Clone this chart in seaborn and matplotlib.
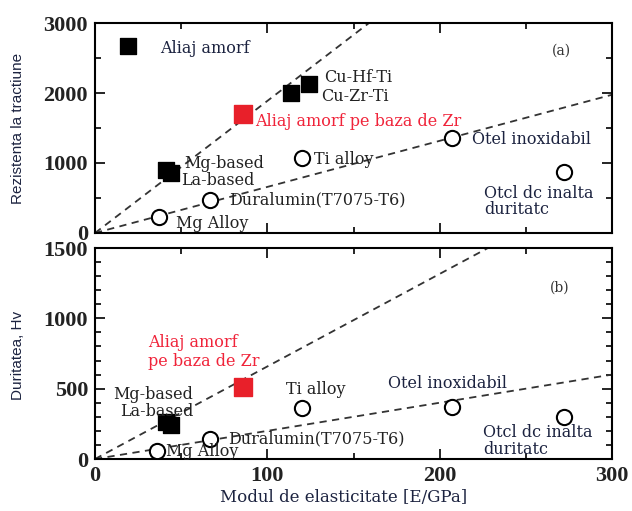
import matplotlib
matplotlib.use("Agg")
import matplotlib.pyplot as plt
import seaborn as sns
import pandas as pd
from matplotlib.ticker import MultipleLocator

sns.set_theme(style="white")
plt.rcParams['font.family'] = ['DejaVu Serif']

# ---- Data: panel (a) tensile strength vs modulus ----
a_amorph_E = [19, 114, 124, 41, 44]
a_amorph_S = [2670, 2000, 2130, 900, 860]
a_zr_E = [86]
a_zr_S = [1700]
a_cryst_E = [37, 67, 120, 207, 272]
a_cryst_S = [230, 470, 1070, 1360, 870]
a_line1_E = [0, 159]
a_line1_S = [0, 3000]
a_line2_E = [0, 300]
a_line2_S = [0, 1975]

# ---- Data: panel (b) hardness vs modulus ----
b_amorph_E = [41, 44]
b_amorph_H = [265, 245]
b_zr_E = [86]
b_zr_H = [512]
b_cryst_E = [36, 67, 120, 207, 272]
b_cryst_H = [57, 142, 363, 370, 299]
b_line1_E = [0, 228]
b_line1_H = [0, 1500]
b_line2_E = [0, 300]
b_line2_H = [0, 600]

navy = '#1c2340'
W, H = 632, 511
fig = plt.figure(figsize=(W/100, H/100), dpi=100)
axa = fig.add_axes([95/W, 1-233/H, 517/W, 210/H])
axb = fig.add_axes([95/W, 1-459/H, 517/W, 211/H])

def style(ax, ymax, ymaj, ymin):
    ax.set_xlim(0, 300)
    ax.set_ylim(0, ymax)
    ax.xaxis.set_major_locator(MultipleLocator(100))
    ax.xaxis.set_minor_locator(MultipleLocator(50))
    ax.yaxis.set_major_locator(MultipleLocator(ymaj))
    ax.yaxis.set_minor_locator(MultipleLocator(ymin))
    ax.tick_params(which='both', direction='in', top=True, right=True,
                   bottom=True, left=True, color='black', width=1.2)
    ax.tick_params(which='major', length=7, pad=5)
    ax.tick_params(which='minor', length=4)
    for s in ax.spines.values():
        s.set_color('black')
        s.set_linewidth(1.5)
    for lab in ax.get_yticklabels() + ax.get_xticklabels():
        lab.set_fontfamily('Liberation Serif')
        lab.set_fontweight('bold')
        lab.set_fontsize(16)
        lab.set_color('#222222')
    ax.set_xlabel('')
    ax.set_ylabel('')

def draw(ax, l1x, l1y, l2x, l2y, amE, amY, zrE, zrY, crE, crY):
    for lx, ly in [(l1x, l1y), (l2x, l2y)]:
        sns.lineplot(x=lx, y=ly, ax=ax, color='#333333', linestyle=(0, (4, 3)),
                     linewidth=1.3, zorder=1)
    sns.scatterplot(x=amE, y=amY, ax=ax, marker='s', s=140, color='black',
                    edgecolor='black', zorder=3)
    sns.scatterplot(x=zrE, y=zrY, ax=ax, marker='s', s=150, color='#e8202a',
                    edgecolor='#e8202a', zorder=3)
    sns.scatterplot(x=crE, y=crY, ax=ax, marker='o', s=120, facecolor='white',
                    edgecolor='black', linewidth=1.5, zorder=3)

draw(axa, a_line1_E, a_line1_S, a_line2_E, a_line2_S,
     a_amorph_E, a_amorph_S, a_zr_E, a_zr_S, a_cryst_E, a_cryst_S)
draw(axb, b_line1_E, b_line1_H, b_line2_E, b_line2_H,
     b_amorph_E, b_amorph_H, b_zr_E, b_zr_H, b_cryst_E, b_cryst_H)

style(axa, 3000, 1000, 500)
style(axb, 1500, 500, 100)
axa.set_xticklabels([])

fs = 11.5
def t(ax, x, y, s, color=navy, ha='left', size=fs):
    ax.text(x, y, s, color=color, ha=ha, va='center', fontsize=size,
            fontfamily='DejaVu Serif', zorder=4)

red = '#f0243a'
dark = '#222222'
# Panel (a) labels
t(axa, 38, 2640, 'Aliaj amorf')
t(axa, 133, 2215, 'Cu-Hf-Ti', color=dark)
t(axa, 131, 1945, 'Cu-Zr-Ti', color=dark)
t(axa, 93, 1600, 'Aliaj amorf pe baza de Zr', color=red)
t(axa, 52, 1000, 'Mg-based', color=dark)
t(axa, 50, 757, 'La-based', color=dark)
t(axa, 127, 1045, 'Ti alloy', color=dark)
t(axa, 78, 470, 'Duralumin(T7075-T6)', color=dark)
t(axa, 47, 130, 'Mg Alloy', color=dark)
t(axa, 219, 1330, 'Otel inoxidabil')
t(axa, 226, 570, 'Otcl dc inalta')
t(axa, 226, 330, 'duritatc')
t(axa, 265, 2610, '(a)', color='#333333', size=10)

# Panel (b) labels
t(axb, 31, 825, 'Aliaj amorf', color=red)
t(axb, 31, 690, 'pe baza de Zr', color=red)
t(axb, 57, 455, 'Mg-based', color=dark, ha='right')
t(axb, 57, 341, 'La-based', color=dark, ha='right')
t(axb, 111, 491, 'Ti alloy', color=dark)
t(axb, 77, 142, 'Duralumin(T7075-T6)', color=dark)
t(axb, 41, 50, 'Mg Alloy', color=dark)
t(axb, 170, 540, 'Otel inoxidabil')
t(axb, 225, 185, 'Otcl dc inalta')
t(axb, 225, 71, 'duritatc')
t(axb, 264, 1216, '(b)', color='#333333', size=10)

fig.text(18/W, 1-128/H, 'Rezistenta la tractiune', rotation=90, ha='center',
         va='center', fontsize=11, color=navy, fontfamily='Liberation Sans')
fig.text(18/W, 1-355/H, 'Duritatea, Hv', rotation=90, ha='center',
         va='center', fontsize=11, color=navy, fontfamily='Liberation Sans')
fig.text(344/W, 1-498/H, 'Modul de elasticitate [E/GPa]', ha='center',
         va='center', fontsize=12, color=navy, fontfamily='DejaVu Serif')

fig.savefig('out.png', dpi=100, facecolor='white')
